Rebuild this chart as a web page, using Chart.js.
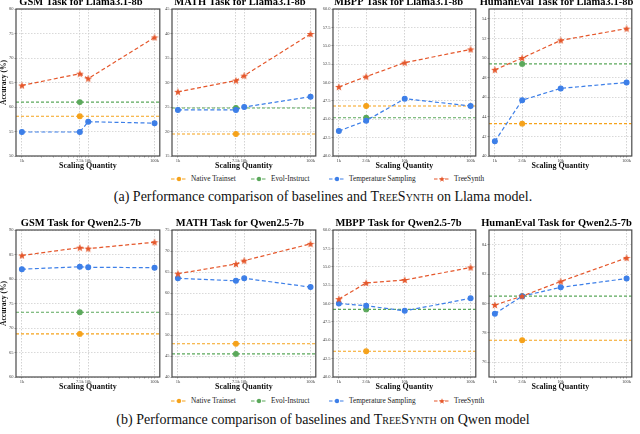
<!DOCTYPE html>
<html>
<head>
<meta charset="utf-8">
<script src="https://cdn.jsdelivr.net/npm/chart.js@4.4.1/dist/chart.umd.min.js"></script>
<style>
html, body { margin: 0; padding: 0; background: #fff; }
body { width: 640px; height: 434px; position: relative; overflow: hidden; font-family: "Liberation Serif", "DejaVu Serif", serif; }
canvas { position: absolute; }
.legend { position: absolute; left: 0; width: 640px; height: 10px; }
.item { position: absolute; top: 0; height: 10px; line-height: 10px; font-size: 7.3px; color: #222; white-space: nowrap; }
.item svg { position: absolute; left: 0; top: 2px; }
.item span { position: absolute; left: 20px; top: 0; }
.caption { position: absolute; left: 3px; width: 640px; text-align: center; font-size: 14px; line-height: 16px; color: #111; }
.sc { font-variant: small-caps; }
</style>
</head>
<body>

<div class="legend" id="legend1" style="top:174px"></div>
<div class="caption" style="top:189px">(a) Performance comparison of baselines and <span class="sc">TreeSynth</span> on Llama model.</div>
<div class="legend" id="legend2" style="top:396px"></div>
<div class="caption" style="top:412px">(b) Performance comparison of baselines and <span class="sc">TreeSynth</span> on Qwen model</div>

<script>
// x positions (scaling quantity) and their tick labels
const gsmXs = [1000, 7473, 10000, 100000];
const gsmXLabels = ['1k', '7.5k', '10k', '100k'];
const mathXs = [1000, 7500, 10000, 100000];
const mathXLabels = ['1k', '7.5k', '10k', '100k'];
const codeXs = [1000, 2600, 10000, 100000];
const codeXLabels = ['1k', '2.6k', '10k', '100k'];

// Llama3.1-8b
const gsmLlamaYTicks = [50, 55, 60, 65, 70, 75, 80];
const gsmLlamaTreeSynth = [64.4, 66.8, 65.8, 74.2];
const gsmLlamaTemp = [54.9, 54.9, 57.0, 56.7];
const gsmLlamaEvol = 61.0;
const gsmLlamaNative = 58.1;

const mathLlamaYTicks = [15, 20, 25, 30, 35, 40, 45];
const mathLlamaTreeSynth = [28.1, 30.4, 31.4, 39.9];
const mathLlamaTemp = [24.4, 24.4, 25.0, 27.1];
const mathLlamaEvol = 24.8;
const mathLlamaNative = 19.5;

const mbppLlamaYTicks = [40, 42.5, 45, 47.5, 50, 52.5, 55, 57.5, 60];
const mbppLlamaTreeSynth = [49.4, 50.8, 52.7, 54.5];
const mbppLlamaTemp = [43.4, 44.8, 47.8, 46.8];
const mbppLlamaEvol = 45.2;
const mbppLlamaNative = 46.8;

const heLlamaYTicks = [40, 42, 44, 46, 48, 50, 52, 54];
const heLlamaTreeSynth = [48.8, 50.0, 51.8, 53.0];
const heLlamaTemp = [41.5, 45.7, 46.9, 47.5];
const heLlamaEvol = 49.4;
const heLlamaNative = 43.3;

// Qwen2.5-7b
const gsmQwenYTicks = [60, 65, 70, 75, 80, 85, 90];
const gsmQwenTreeSynth = [84.8, 86.4, 86.2, 87.5];
const gsmQwenTemp = [82.0, 82.5, 82.4, 82.3];
const gsmQwenEvol = 73.2;
const gsmQwenNative = 68.8;

const mathQwenYTicks = [40, 45, 50, 55, 60, 65, 70, 75];
const mathQwenTreeSynth = [64.6, 66.9, 67.7, 71.7];
const mathQwenTemp = [63.5, 62.9, 63.5, 61.4];
const mathQwenEvol = 45.5;
const mathQwenNative = 47.9;

const mbppQwenYTicks = [40, 42.5, 45, 47.5, 50, 52.5, 55, 57.5, 60];
const mbppQwenTreeSynth = [50.6, 52.8, 53.2, 54.9];
const mbppQwenTemp = [50.0, 49.7, 49.0, 50.7];
const mbppQwenEvol = 49.2;
const mbppQwenNative = 43.5;

const heQwenYTicks = [76, 78, 80, 82, 84];
const heQwenTreeSynth = [79.9, 80.5, 81.5, 83.1];
const heQwenTemp = [79.3, 80.5, 81.1, 81.7];
const heQwenEvol = 80.5;
const heQwenNative = 77.5;

const seriesNames = ['Native Trainset', 'Evol-Instruct', 'Temperature Sampling', 'TreeSynth'];
const colNative = '#F5A21B';
const colEvol = '#5BA85B';
const colTemp = '#3D7FE8';
const colTree = '#E5572B';

const X_MIN = 815, X_MAX = 120000;
const minorXs = [2000,3000,4000,5000,6000,7000,8000,9000,20000,30000,40000,50000,60000,70000,80000,90000];

const panels = [
  {title: 'GSM Task for Llama3.1-8b', frame: [16, 9, 162, 156], yW: 16, first: true,
   xs: gsmXs, xLabels: gsmXLabels, yMin: 50, yMax: 80, yTicks: gsmLlamaYTicks, dec: 0,
   tree: gsmLlamaTreeSynth, temp: gsmLlamaTemp, evol: gsmLlamaEvol, native: gsmLlamaNative},
  {title: 'MATH Task for Llama3.1-8b', frame: [172, 9, 318, 156], yW: 10,
   xs: mathXs, xLabels: mathXLabels, yMin: 15, yMax: 45, yTicks: mathLlamaYTicks, dec: 0,
   tree: mathLlamaTreeSynth, temp: mathLlamaTemp, evol: mathLlamaEvol, native: mathLlamaNative},
  {title: 'MBPP Task for Llama3.1-8b', frame: [333, 9, 478, 156], yW: 14,
   xs: codeXs, xLabels: codeXLabels, yMin: 40, yMax: 60, yTicks: mbppLlamaYTicks, dec: 1,
   tree: mbppLlamaTreeSynth, temp: mbppLlamaTemp, evol: mbppLlamaEvol, native: mbppLlamaNative},
  {title: 'HumanEval Task for Llama3.1-8b', frame: [489, 9, 634, 156], yW: 10,
   xs: codeXs, xLabels: codeXLabels, yMin: 40, yMax: 55, yTicks: heLlamaYTicks, dec: 0,
   tree: heLlamaTreeSynth, temp: heLlamaTemp, evol: heLlamaEvol, native: heLlamaNative},
  {title: 'GSM Task for Qwen2.5-7b', frame: [16, 230, 162, 377], yW: 16, first: true,
   xs: gsmXs, xLabels: gsmXLabels, yMin: 60, yMax: 90, yTicks: gsmQwenYTicks, dec: 0,
   tree: gsmQwenTreeSynth, temp: gsmQwenTemp, evol: gsmQwenEvol, native: gsmQwenNative},
  {title: 'MATH Task for Qwen2.5-7b', frame: [172, 230, 318, 377], yW: 10,
   xs: mathXs, xLabels: mathXLabels, yMin: 40, yMax: 75, yTicks: mathQwenYTicks, dec: 0,
   tree: mathQwenTreeSynth, temp: mathQwenTemp, evol: mathQwenEvol, native: mathQwenNative},
  {title: 'MBPP Task for Qwen2.5-7b', frame: [333, 230, 478, 377], yW: 14,
   xs: codeXs, xLabels: codeXLabels, yMin: 40, yMax: 60, yTicks: mbppQwenYTicks, dec: 1,
   tree: mbppQwenTreeSynth, temp: mbppQwenTemp, evol: mbppQwenEvol, native: mbppQwenNative},
  {title: 'HumanEval Task for Qwen2.5-7b', frame: [489, 230, 634, 377], yW: 10,
   xs: codeXs, xLabels: codeXLabels, yMin: 75, yMax: 85, yTicks: heQwenYTicks, dec: 0,
   tree: heQwenTreeSynth, temp: heQwenTemp, evol: heQwenEvol, native: heQwenNative},
];

const SERIF = '"Liberation Serif", "DejaVu Serif", serif';
const TITLE_H = 12;  // 10.5px title + 1.5 padding
const X_AXIS_H = 14;

function starImage(color, size) {
  const c = document.createElement('canvas');
  c.width = size; c.height = size;
  const g = c.getContext('2d');
  const cx = size / 2, cy = size / 2 + 0.3, R = size / 2, r = R * 0.42;
  g.beginPath();
  for (let i = 0; i < 10; i++) {
    const a = -Math.PI / 2 + i * Math.PI / 5;
    const rr = i % 2 ? r : R;
    g.lineTo(cx + rr * Math.cos(a), cy + rr * Math.sin(a));
  }
  g.closePath();
  g.fillStyle = color;
  g.fill();
  return c;
}
const star = starImage(colTree, 8);

const framePlugin = {
  id: 'frame',
  afterDatasetsDraw(chart) {
    const {ctx, chartArea: a} = chart;
    ctx.save();
    ctx.strokeStyle = '#4a4a4a';
    ctx.lineWidth = 1.2;
    ctx.strokeRect(a.left, a.top, a.right - a.left, a.bottom - a.top);
    ctx.restore();
  }
};

function flatLine(v, xs, color) {
  return {
    data: [{x: X_MIN, y: v}, {x: xs[1], y: v}, {x: X_MAX, y: v}],
    borderColor: color, backgroundColor: color,
    borderWidth: 1.1, borderDash: [3, 2],
    pointRadius: [0, 2.4, 0], pointHoverRadius: 0,
  };
}

function makePanel(p) {
  const [fl, ft, fr, fb] = p.frame;
  const left = fl - p.yW, top = ft - TITLE_H;
  const w = fr + 3 - left, h = fb + X_AXIS_H - top;
  const cv = document.createElement('canvas');
  cv.width = w; cv.height = h;
  cv.style.left = left + 'px'; cv.style.top = top + 'px';
  cv.style.width = w + 'px'; cv.style.height = h + 'px';
  document.body.appendChild(cv);

  const labelMap = {};
  p.xs.forEach((x, i) => labelMap[x] = p.xLabels[i]);

  new Chart(cv, {
    type: 'line',
    data: {
      datasets: [
        {
          data: p.xs.map((x, i) => ({x, y: p.tree[i]})),
          borderColor: colTree, backgroundColor: colTree,
          borderWidth: 1.2, borderDash: [4, 2.5],
          pointStyle: star, pointRadius: 3,
        },
        {
          data: p.xs.map((x, i) => ({x, y: p.temp[i]})),
          borderColor: colTemp, backgroundColor: colTemp,
          borderWidth: 1.2, borderDash: [4, 2.5],
          pointStyle: 'circle', pointRadius: 2.4,
        },
        flatLine(p.evol, p.xs, colEvol),
        flatLine(p.native, p.xs, colNative),
      ]
    },
    options: {
      responsive: false,
      maintainAspectRatio: false,
      animation: false,
      events: [],
      layout: {padding: {left: 0, top: 0, right: 3, bottom: 0}},
      plugins: {
        legend: {display: false},
        tooltip: {enabled: false},
        title: {
          display: true, text: p.title, color: '#000',
          font: {family: SERIF, size: 10.5, weight: 'bold', lineHeight: 1},
          padding: {top: 0, bottom: 1.5}
        }
      },
      scales: {
        x: {
          type: 'logarithmic', min: X_MIN, max: X_MAX,
          afterBuildTicks: s => {
            s.ticks = p.xs.map(v => ({value: v})).concat(minorXs.map(v => ({value: v, minor: true})));
          },
          afterFit: s => { s.height = X_AXIS_H; },
          ticks: {
            autoSkip: false, maxRotation: 0, padding: 0.5,
            font: {family: SERIF, size: 4.5}, color: '#444',
            callback: v => labelMap[v] || ''
          },
          grid: {
            color: c => (c.tick && c.tick.minor) ? 'rgba(0,0,0,0)' : '#c8c8c8',
            lineWidth: 0.8, tickLength: 1.5, tickColor: '#666', tickWidth: 0.6
          },
          border: {display: false, dash: [1.5, 1.5]},
          title: {
            display: true, text: 'Scaling Quantity', color: '#111',
            font: {family: SERIF, size: 8, weight: 'bold', lineHeight: 1},
            padding: {top: 0, bottom: 0}
          }
        },
        y: {
          min: p.yMin, max: p.yMax,
          afterBuildTicks: s => { s.ticks = p.yTicks.map(v => ({value: v})); },
          afterFit: s => { s.width = p.yW; },
          ticks: {
            padding: 1, font: {family: SERIF, size: 4.5}, color: '#444',
            callback: v => p.dec ? v.toFixed(1) : String(v)
          },
          grid: {color: '#cfcfcf', lineWidth: 0.8, tickLength: 1.5, tickColor: '#666', tickWidth: 0.6},
          border: {display: false, dash: [1.5, 1.5]},
          title: {
            display: !!p.first, text: 'Accuracy (%)', color: '#111',
            font: {family: SERIF, size: 7.5, weight: 'bold', lineHeight: 1},
            padding: {top: 0.5, bottom: 0}
          }
        }
      }
    },
    plugins: [framePlugin]
  });
}

panels.forEach(makePanel);

// legends
const legendItems = [
  {name: seriesNames[0], color: colNative, star: false, x: 171},
  {name: seriesNames[1], color: colEvol, star: false, x: 251},
  {name: seriesNames[2], color: colTemp, star: false, x: 329},
  {name: seriesNames[3], color: colTree, star: true, x: 434},
];
function markerSvg(color, isStar) {
  let m;
  if (isStar) {
    const pts = [];
    for (let i = 0; i < 10; i++) {
      const a = -Math.PI / 2 + i * Math.PI / 5;
      const rr = i % 2 ? 1.3 : 3.1;
      pts.push((8 + rr * Math.cos(a)).toFixed(2) + ',' + (3.3 + rr * Math.sin(a)).toFixed(2));
    }
    m = '<polygon points="' + pts.join(' ') + '" fill="' + color + '"/>';
  } else {
    m = '<circle cx="8" cy="3" r="2.2" fill="' + color + '"/>';
  }
  return '<svg width="16" height="6"><line x1="0" y1="3" x2="16" y2="3" stroke="' + color +
    '" stroke-width="1.2" stroke-dasharray="3.5 2"/>' + m + '</svg>';
}
['legend1', 'legend2'].forEach(id => {
  const el = document.getElementById(id);
  legendItems.forEach(it => {
    const d = document.createElement('div');
    d.className = 'item';
    d.style.left = it.x + 'px';
    d.innerHTML = markerSvg(it.color, it.star) + '<span>' + it.name + '</span>';
    el.appendChild(d);
  });
});
</script>
</body>
</html>
